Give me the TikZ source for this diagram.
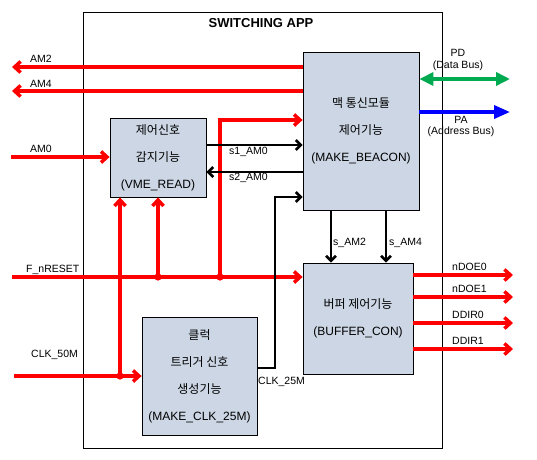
\documentclass[tikz,border=0pt]{standalone}
\usepackage{fontspec}
\setmainfont{Liberation Sans}
\newfontfamily\kr{Noto Sans CJK KR}
\usetikzlibrary{arrows.meta}
\usetikzlibrary{calc}
\definecolor{boxfill}{RGB}{204,214,228}
\definecolor{busgreen}{RGB}{0,170,80}
\tikzstyle{block} = [draw,fill=boxfill,line width=0.8pt,align=center,inner sep=0pt,font=\fontsize{12}{27}\selectfont]
\tikzstyle{lbl} = [inner sep=0pt,font=\fontsize{10.5}{12}\selectfont]
\tikzstyle{sig} = [red,line width=3.5pt,-{Straight Barb[length=6pt,width=11pt]}]
\tikzstyle{ctl} = [black,line width=2.6pt,-{Straight Barb[length=5pt,width=10pt]}]
\tikzstyle{bus} = [line width=3.5pt]

\begin{document}
\begin{tikzpicture}[x=1pt,y=-1pt]
\useasboundingbox (0,0) rectangle (537,459);
% frame and blocks
\node[draw,line width=0.8pt,minimum width=359pt,minimum height=436pt,inner sep=0pt] (app) at (262.5,230) {};
\node[font=\fontsize{13}{15}\selectfont\bfseries] (title) at (261,23) {SWITCHING APP};
\node[block,minimum width=96pt,minimum height=79pt] (vme) at (158,157.5) {{\kr 제어신호}\\{\kr 감지기능}\\(VME\_READ)};
\node[block,minimum width=116pt,minimum height=158pt] (beacon) at (361,131) {{\kr 맥 통신모듈}\\{\kr 제어기능}\\(MAKE\_BEACON)};
\node[block,minimum width=110pt,minimum height=111pt] (buffer) at (358,318.5) {{\kr 버퍼 제어기능}\\(BUFFER\_CON)};
\node[block,minimum width=115pt,minimum height=118pt] (clk) at (199.5,376) {{\kr 클럭}\\{\kr 트리거 신호}\\{\kr 생성기능}\\(MAKE\_CLK\_25M)};

% free ends and corners
\coordinate (am2) at (12,67);
\coordinate (am4) at (12,91);
\coordinate (am0) at (11,157);
\coordinate (rst) at (12,277);
\coordinate (c50) at (14,376);
\coordinate (j1) at (120,376);
\coordinate (j2) at (158,277);
\coordinate (j3) at (220,277);
\coordinate (r1) at (220,120);
\coordinate (s1) at (0,145);
\coordinate (s2) at (0,172);
\coordinate (k1) at (275,368);
\coordinate (k2) at (275,197);
\coordinate (a2) at (331,0);
\coordinate (a4) at (386,0);
\coordinate (pd) at (510,79);
\coordinate (pa) at (510,112);

% red signals
\draw[sig] (am2 -| beacon.west) -- (am2);
\draw[sig] (am4 -| beacon.west) -- (am4);
\draw[sig] (am0) -- (am0 -| vme.west);
\draw[sig] (rst) -- (rst -| buffer.west);
\draw[sig] (c50) -- (c50 -| clk.west);
\draw[sig] (j1) -- (j1 |- vme.south);
\draw[sig] (j2) -- (j2 |- vme.south);
\draw[sig] (j3) -- (r1) -- (r1 -| beacon.west);
\foreach \j in {j1,j2,j3}{
	\fill[red] (\j) circle (3.6pt);
}
\foreach \y/\t in {275/nDOE0,297/nDOE1,323/DDIR0,349/DDIR1}{
	\coordinate (o\y) at (513,\y);
	\draw[sig] (o\y -| buffer.east) -- (o\y);
	\node[lbl,anchor=west] (l\t) at (452,\y-8) {\t};
}

% black signals
\draw[ctl] (s1 -| vme.east) -- (s1 -| beacon.west);
\draw[ctl] (s2 -| beacon.west) -- (s2 -| vme.east);
\draw[ctl] (k1 -| clk.east) -- (k1) -- (k2) -- (k2 -| beacon.west);
\draw[ctl] (a2 |- beacon.south) -- (a2 |- buffer.north);
\draw[ctl] (a4 |- beacon.south) -- (a4 |- buffer.north);

% buses
\draw[bus,busgreen,{Triangle[length=14pt,width=13pt]}-{Triangle[length=14pt,width=13pt]}] (pd -| beacon.east) -- (pd);
\draw[bus,blue,-{Triangle[length=16pt,width=13pt]}] (pa -| beacon.east) -- (pa);

% labels
\node[lbl,anchor=west] (lam2) at (30,59) {AM2};
\node[lbl,anchor=west] (lam4) at (30,84) {AM4};
\node[lbl,anchor=west] (lam0) at (30,149) {AM0};
\node[lbl,anchor=west] (lrst) at (26,270) {F\_nRESET};
\node[lbl,anchor=west] (lc50) at (31,355) {CLK\_50M};
\node[lbl,anchor=west] (ls1) at (229,152) {s1\_AM0};
\node[lbl,anchor=west] (ls2) at (229,178) {s2\_AM0};
\node[lbl,anchor=west] (lc25) at (258,382) {CLK\_25M};
\node[lbl,anchor=west] (lsa2) at (333,243) {s\_AM2};
\node[lbl,anchor=west] (lsa4) at (389,243) {s\_AM4};
\node[lbl] (lpd) at (458,53) {PD};
\node[lbl] (lpd2) at (458,66) {(Data Bus)};
\node[lbl] (lpa) at (461,120) {PA};
\node[lbl] (lpa2) at (461,132) {(Address Bus)};
\end{tikzpicture}
\end{document}
